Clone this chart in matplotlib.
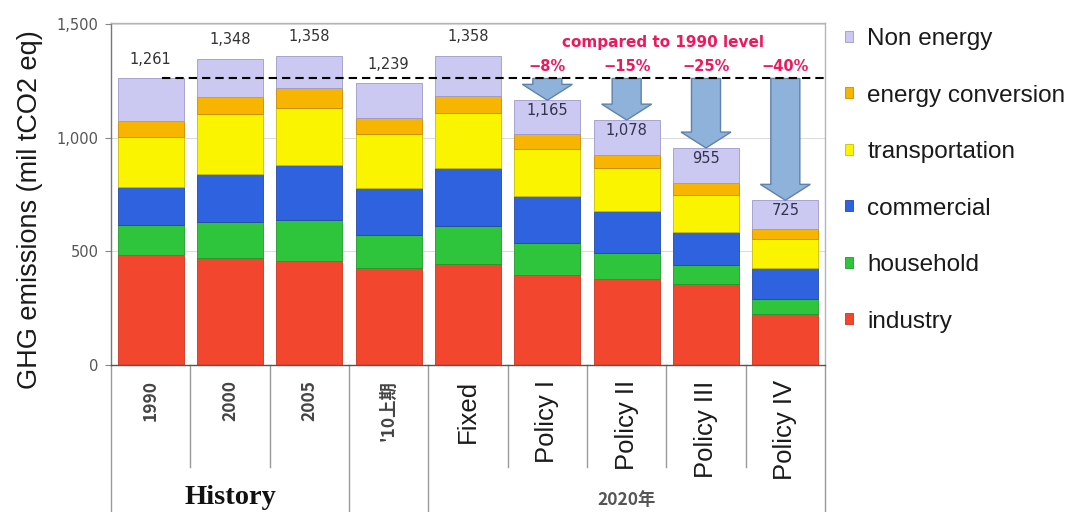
import matplotlib
matplotlib.use("Agg")
import matplotlib.pyplot as plt
from matplotlib.ticker import FuncFormatter
import matplotlib.transforms as mtransforms

# Categories along the x axis
categories = ["1990", "2000", "2005", "'10上期", "Fixed", "Policy I", "Policy II", "Policy III", "Policy IV"]

# Emissions by sector (mil tCO2 eq), stacked bottom to top
industry = [485, 471, 458, 427, 445, 396, 379, 357, 225]
household = [132, 159, 181, 146, 167, 141, 114, 84, 66]
commercial = [167, 211, 242, 207, 256, 207, 185, 145, 136]
transportation = [220, 265, 251, 238, 242, 208, 190, 163, 128]
energy_conversion = [71, 75, 88, 70, 75, 66, 57, 53, 44]
totals = [1261, 1348, 1358, 1239, 1358, 1165, 1078, 955, 725]
non_energy = [t - a - b - c - d - e for t, a, b, c, d, e in
              zip(totals, industry, household, commercial, transportation, energy_conversion)]

# Reductions versus the 1990 level for the policy scenarios
policy_idx = [5, 6, 7, 8]
reduction_labels = ["\u22128%", "\u221215%", "\u221225%", "\u221240%"]
baseline_1990 = totals[0]

series = [
    ("industry", industry, "#f2462f", "#c8361f"),
    ("household", household, "#2ec43c", "#1f9a2c"),
    ("commercial", commercial, "#2f62de", "#2448a8"),
    ("transportation", transportation, "#fbf400", "#c9bf00"),
    ("energy conversion", energy_conversion, "#f7b500", "#c98a00"),
    ("Non energy", non_energy, "#cbc8f2", "#9d99cc"),
]

fig = plt.figure(figsize=(10.78, 5.12), dpi=100)
ax = fig.add_axes([111 / 1078, 1 - 365 / 512, 714 / 1078, 342 / 512])

x = list(range(len(categories)))
bottom = [0] * len(categories)
handles = []
for name, vals, col, edge in series:
    bc = ax.bar(x, vals, bottom=bottom, width=0.83, color=col, edgecolor=edge,
                linewidth=0.6, label=name, zorder=2)
    handles.append(bc)
    bottom = [b + v for b, v in zip(bottom, vals)]

ax.set_xlim(-0.5, len(categories) - 0.5)
ax.set_ylim(0, 1505)
ax.set_yticks([0, 500, 1000, 1500])
ax.yaxis.set_major_formatter(FuncFormatter(lambda v, p: f"{int(v):,}"))
ax.tick_params(axis="y", length=4, width=0.8, color="#888888", pad=5,
               labelsize=10.5, labelcolor="#555555")
ax.yaxis.grid(True, color="#dcdcdc", linewidth=0.8, zorder=0)
ax.set_axisbelow(True)
for side in ["top", "right"]:
    ax.spines[side].set_color("#b5b5b5")
ax.spines["left"].set_color("#777777")
ax.spines["bottom"].set_color("#555555")
for s in ax.spines.values():
    s.set_linewidth(1.0)

# Category labels, rotated
ax.set_xticks(x)
ax.set_xticklabels(categories, rotation=90, va="top", ha="center")
ax.tick_params(axis="x", length=0, pad=11)
for i, lab in enumerate(ax.get_xticklabels()):
    if i < 4:
        lab.set_fontfamily(["Noto Sans CJK JP", "DejaVu Sans"])
        lab.set_fontsize(12.5)
        lab.set_fontweight("bold")
        lab.set_color("#444444")
    else:
        lab.set_fontfamily("Liberation Sans")
        lab.set_fontsize(18.5)
        lab.set_color("#1a1a1a")

# Table-style separators under the axis
trans = mtransforms.blended_transform_factory(ax.transData, ax.transAxes)
short_seps = [0.5, 1.5, 4.5, 5.5, 6.5, 7.5]
long_seps = [-0.5, 2.5, 3.5, 8.5]
for xs in short_seps:
    ax.plot([xs, xs], [0, -0.298], transform=trans, color="#9a9a9a", lw=1.0, clip_on=False)
for xs in long_seps:
    ax.plot([xs, xs], [0, -0.45], transform=trans, color="#9a9a9a", lw=1.0, clip_on=False)

ax.text(1, -0.386, "History", transform=trans, ha="center", va="center",
        fontfamily="Liberation Serif", fontweight="bold", fontsize=20.5, color="#111111")
ax.text(6, -0.395, "2020年", transform=trans, ha="center", va="center",
        fontfamily=["Noto Sans CJK JP", "DejaVu Sans"], fontweight="bold",
        fontsize=12.5, color="#555555")

# Total labels
for i, t in enumerate(totals):
    if i in policy_idx:
        ax.annotate(f"{t:,}", (i, t), xytext=(0, -7.5), textcoords="offset points",
                    ha="center", va="center", fontsize=10.5, color="#33334a", zorder=5)
    else:
        ax.annotate(f"{t:,}", (i, t), xytext=(0, 14), textcoords="offset points",
                    ha="center", va="center", fontsize=10.5, color="#333333", zorder=5)

# Reduction arrows from the 1990 level down to each policy total
for i, lab in zip(policy_idx, reduction_labels):
    ax.arrow(i, baseline_1990, 0, totals[i] - baseline_1990, width=0.366,
             head_width=0.63, head_length=70, length_includes_head=True,
             facecolor="#8fb2da", edgecolor="#5f82ab", linewidth=1.0, zorder=4)
    ax.text(i, 1312, lab, ha="center", va="center", fontsize=10.5,
            fontweight="bold", color="#f0185c", zorder=6)

ax.text(6.46, 1418, "compared to 1990 level", ha="center", va="center",
        fontsize=11, fontweight="bold", color="#f0185c", zorder=6)

# 1990 reference level
ax.hlines(baseline_1990, 0.14, 8.5, colors="black", linestyles=(0, (4, 2.4)),
          linewidth=1.5, zorder=5)

fig.text(30 / 1078, 1 - 210 / 512, "GHG emissions (mil tCO2 eq)", rotation=90,
         ha="center", va="center", fontfamily="Liberation Sans", fontsize=19.5,
         color="#1a1a1a")

leg = ax.legend(handles[::-1], [s[0] for s in series[::-1]],
                loc="upper left", bbox_to_anchor=(845 / 1078, 1 - 28 / 512),
                bbox_transform=fig.transFigure, frameon=False,
                prop={"family": "Liberation Sans", "size": 17.5},
                handlelength=0.32, handleheight=0.32, handletextpad=0.6,
                labelspacing=1.42, borderpad=0, borderaxespad=0)
for t in leg.get_texts():
    t.set_color("#1a1a1a")

fig.savefig("out.png", dpi=100, facecolor="white")
